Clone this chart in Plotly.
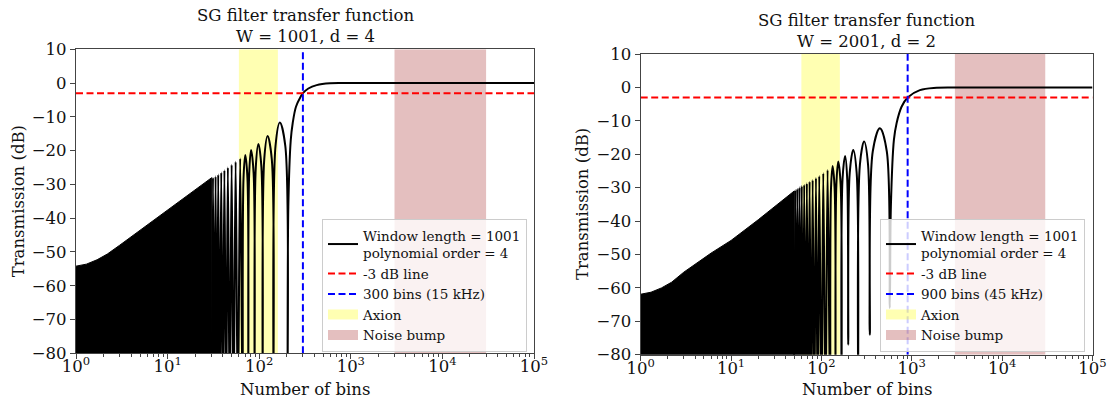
import plotly.graph_objects as go

FIG_W, FIG_H = 1115, 402
FONT = "DejaVu Serif"

# ---------------- shared axis settings ----------------
x_tick_vals = [1, 10, 100, 1000, 10000, 100000]
x_tick_text = ["10<sup>0</sup>", "10<sup>1</sup>", "10<sup>2</sup>",
               "10<sup>3</sup>", "10<sup>4</sup>", "10<sup>5</sup>"]
y_tick_vals = [-80, -70, -60, -50, -40, -30, -20, -10, 0, 10]
y_range = [-80, 10]

axion_band = [60, 160]          # bins
noise_band = [3000, 30000]      # bins
threshold_db = -3

# ---------------- panel A: W = 1001, d = 4 ----------------
# upper edge of the unresolved (densely oscillating) stop band
a_env_x = [1, 1.3, 1.7, 2.2, 3, 4, 6, 10, 15, 20, 25, 30.3]
a_env_db = [-54.2, -53.6, -52.3, -50.6, -48.0, -45.5, -42.0, -37.6, -34.1, -31.6, -29.7, -28.0]

# resolved side lobes and the pass band (nulls fall below the axis)
a_curve_x = [30.3, 31.3, 32.3, 33.4, 34.5, 35.7, 37, 38.5, 40, 41.7,
             43.5, 45.5, 47.7, 50, 52.5, 55.3, 58.5, 62,
             66, 67.4, 70.5, 74.4,
             76, 77.8, 81.5, 86.9,
             89, 91.8, 98, 105.7,
             109, 113.5, 123.5, 137.3,
             143, 150.7, 168, 192.7,
             203, 208, 221, 232, 252, 284, 300, 344, 424, 593, 1000, 100000]
a_curve_db = [-100, -28.0, -100, -27.6, -100, -27.1, -100, -26.5, -100, -25.8,
              -100, -25.0, -100, -24.2, -100, -23.3, -100, -22.3,
              -100, -28.2, -21.3, -28.2,
              -100, -26.7, -19.8, -26.7,
              -100, -24.9, -18.0, -24.9,
              -100, -22.6, -15.7, -22.6,
              -100, -18.6, -11.7, -18.6,
              -100, -36.6, -16.9, -11.9, -7.0, -4.0, -3.0, -1.6, -0.6, -0.05, 0, 0]

# ---------------- panel B: W = 2001, d = 2 ----------------
b_env_x = [1, 1.3, 1.7, 2.2, 3, 4, 6, 10, 15, 20, 25, 30, 40, 50]
b_env_db = [-61.9, -61.3, -60.0, -58.3, -55.3, -52.9, -49.6, -45.8, -42.3,
            -39.6, -37.5, -35.8, -33.1, -31.0]

b_curve_x = [50, 51.3, 52.7, 54.1, 55.6, 57.2, 58.9, 60.6, 62.5, 64.5,
             66.7, 69, 71.5, 74, 77, 80, 83.4, 87, 91, 94.6,
             100, 104.8, 111, 117,
             125, 127.6, 133, 140.1,
             143, 146.4, 153.5, 163.2,
             167, 171.3, 183, 193,
             198, 205.7, 225, 245.5,
             255, 266.6, 297, 328.1,
             343, 370.3, 444, 528.9,
             571, 587, 634, 679, 771, 900, 1230, 1880, 3000, 100000]
b_curve_db = [-100, -30.7, -100, -30.3, -100, -29.9, -100, -29.5, -100, -29.1,
              -100, -28.7, -100, -28.2, -100, -27.7, -100, -27.1, -100, -26.5,
              -100, -25.7, -100, -24.7,
              -100, -30.4, -23.5, -30.4,
              -100, -29.1, -22.2, -29.1,
              -100, -27.4, -20.5, -27.4,
              -77, -25.6, -18.7, -25.6,
              -100, -23.1, -16.2, -23.1,
              -74, -19.1, -12.2, -19.1,
              -66, -35.7, -15.7, -10.7, -5.8, -3.0, -0.8, -0.1, 0, 0]

panels = [
    dict(title="SG filter transfer function<br>W = 1001, d = 4",
         env_x=a_env_x, env_db=a_env_db, curve_x=a_curve_x, curve_db=a_curve_db,
         cutoff=300, cutoff_label="300 bins (15 kHz)",
         curve_label="Window length = 1001<br>polynomial order = 4",
         xdom=[76 / FIG_W, 534 / FIG_W], ydom=[1 - 353.3 / FIG_H, 1 - 49.3 / FIG_H],
         title_y=26, legend="legend"),
    dict(title="SG filter transfer function<br>W = 2001, d = 2",
         env_x=b_env_x, env_db=b_env_db, curve_x=b_curve_x, curve_db=b_curve_db,
         cutoff=900, cutoff_label="900 bins (45 kHz)",
         curve_label="Window length = 1001<br>polynomial order = 4",
         xdom=[640.7 / FIG_W, 1092.5 / FIG_W], ydom=[1 - 354.7 / FIG_H, 1 - 54 / FIG_H],
         title_y=31, legend="legend2"),
]

minor_vals = [m * 10 ** k for k in range(5) for m in range(2, 10)]

fig = go.Figure()
annotations = []

for i, p in enumerate(panels):
    xa = "x" if i == 0 else "x2"
    ya = "y" if i == 0 else "y2"
    lg = p["legend"]

    # shaded bands (drawn first, beneath the curve)
    bands = [(axion_band, "rgba(255,255,0,0.3)", "Axion", 4),
             (noise_band, "rgba(165,42,42,0.3)", "Noise bump", 5)]
    for band, color, name, rank in bands:
        fig.add_trace(go.Scatter(
            x=[band[0], band[1], band[1], band[0], band[0]],
            y=[y_range[0], y_range[0], y_range[1], y_range[1], y_range[0]],
            xaxis=xa, yaxis=ya, mode="lines", fill="toself", fillcolor=color,
            line=dict(width=0, color=color), showlegend=False, hoverinfo="skip"))
        # legend patch for the band
        fig.add_trace(go.Scatter(
            x=[None], y=[None], xaxis=xa, yaxis=ya, mode="lines",
            line=dict(width=10, color=color), name=name, legend=lg, legendrank=rank))

    # unresolved stop-band oscillations rendered as a solid black region
    fig.add_trace(go.Scatter(
        x=p["env_x"] + p["env_x"][::-1],
        y=p["env_db"] + [-100] * len(p["env_x"]),
        xaxis=xa, yaxis=ya, mode="lines", fill="toself", fillcolor="black",
        line=dict(width=1, color="black"), showlegend=False, hoverinfo="skip"))

    # resolved lobes and pass band
    fig.add_trace(go.Scatter(
        x=p["curve_x"], y=p["curve_db"], xaxis=xa, yaxis=ya, mode="lines",
        line=dict(color="black", width=2, shape="spline", smoothing=1, simplify=False),
        name=p["curve_label"], legend=lg, legendrank=1))

    # -3 dB reference line
    fig.add_trace(go.Scatter(
        x=[x_tick_vals[0], x_tick_vals[-1]], y=[threshold_db, threshold_db],
        xaxis=xa, yaxis=ya, mode="lines",
        line=dict(color="red", width=2, dash="7px,3.5px"),
        name="-3 dB line", legend=lg, legendrank=2))

    # cut-off marker
    fig.add_trace(go.Scatter(
        x=[p["cutoff"], p["cutoff"]], y=y_range, xaxis=xa, yaxis=ya, mode="lines",
        line=dict(color="blue", width=2, dash="7px,3.5px"),
        name=p["cutoff_label"], legend=lg, legendrank=3))

    xc = (p["xdom"][0] + p["xdom"][1]) / 2
    yc = (p["ydom"][0] + p["ydom"][1]) / 2
    annotations.append(dict(text=p["title"], x=xc, y=1 - p["title_y"] / FIG_H,
                            xref="paper", yref="paper",
                            xanchor="center", yanchor="middle", showarrow=False,
                            font=dict(family=FONT, size=16.5, color="#111")))
    annotations.append(dict(text="Number of bins", x=xc, y=1 - 389 / FIG_H,
                            xref="paper", yref="paper",
                            xanchor="center", yanchor="middle", showarrow=False,
                            font=dict(family=FONT, size=16.5, color="#111")))
    annotations.append(dict(text="Transmission (dB)", x=p["xdom"][0] - 58 / FIG_W, y=yc,
                            xref="paper", yref="paper", textangle=-90,
                            xanchor="center", yanchor="middle", showarrow=False,
                            font=dict(family=FONT, size=16.5, color="#111")))

axis_common = dict(showline=True, mirror=True, linecolor="#444", linewidth=1.2,
                   ticks="outside", ticklen=5, tickwidth=1.2, tickcolor="#444",
                   showgrid=False, zeroline=False, automargin=False,
                   tickfont=dict(family=FONT, size=16.5, color="#111"))

layout = dict(
    width=FIG_W, height=FIG_H, margin=dict(l=0, r=0, t=0, b=0, autoexpand=False),
    paper_bgcolor="white", plot_bgcolor="white", annotations=annotations,
    font=dict(family=FONT, color="#111"),
)
for i, p in enumerate(panels):
    sx = "" if i == 0 else "2"
    layout["xaxis" + sx] = dict(axis_common, type="log", range=[0, 5], domain=p["xdom"],
                                anchor="y" + sx, tickmode="array", tickvals=x_tick_vals,
                                ticktext=x_tick_text, ticklabelstandoff=-7,
                                minor=dict(tickvals=minor_vals, ticks="outside", ticklen=3,
                                           tickwidth=1, tickcolor="#444"))
    layout["yaxis" + sx] = dict(axis_common, range=y_range, domain=p["ydom"],
                                anchor="x" + sx, tickmode="array", tickvals=y_tick_vals)

legend_common = dict(bgcolor="rgba(255,255,255,0.8)", bordercolor="#ccc", borderwidth=1,
                     font=dict(family=FONT, size=13.5, color="#111"),
                     xanchor="right", yanchor="bottom", tracegroupgap=0)
layout["legend"] = dict(legend_common, x=527 / FIG_W, y=1 - 352 / FIG_H)
layout["legend2"] = dict(legend_common, x=1085 / FIG_W, y=1 - 352 / FIG_H)

fig.update_layout(**layout)
fig.write_html("out.html")
